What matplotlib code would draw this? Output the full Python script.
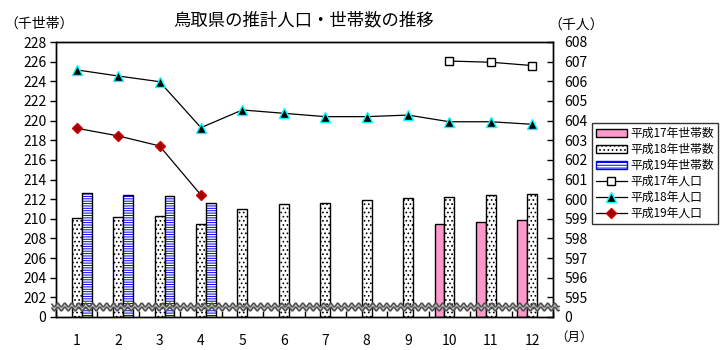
import numpy as np
import matplotlib
matplotlib.use("Agg")
import matplotlib.pyplot as plt
from matplotlib.patches import Patch
from matplotlib.lines import Line2D

plt.rcParams['font.family'] = ['Noto Sans CJK JP', 'DejaVu Sans']
plt.rcParams['hatch.linewidth'] = 0.7

months = [1, 2, 3, 4, 5, 6, 7, 8, 9, 10, 11, 12]
month_labels = [str(m) for m in months]

# 世帯数 (千世帯)
hh_h17 = [None, None, None, None, None, None, None, None, None, 209.5, 209.7, 209.9]
hh_h18 = [210.1, 210.2, 210.3, 209.5, 211.0, 211.5, 211.6, 211.9, 212.1, 212.2, 212.4, 212.5]
hh_h19 = [212.6, 212.4, 212.3, 211.6, None, None, None, None, None, None, None, None]

# 人口 (千人)
pop_h17 = [None, None, None, None, None, None, None, None, None, 607.03, 606.97, 606.8]
pop_h18 = [606.58, 606.27, 605.98, 603.64, 604.54, 604.37, 604.2, 604.2, 604.28, 603.94, 603.94, 603.81]
pop_h19 = [603.61, 603.22, 602.71, 600.21, None, None, None, None, None, None, None, None]

left_ticks = list(range(200, 229, 2))
left_tick_labels = ['0'] + [str(v) for v in left_ticks[1:]]
right_ticks = list(range(594, 609))
right_tick_labels = ['0'] + [str(v) for v in right_ticks[1:]]

legend_labels = ['平成17年世帯数', '平成18年世帯数', '平成19年世帯数',
                 '平成17年人口', '平成18年人口', '平成19年人口']

pink = '#FF99CC'
blue = '#0000FF'
darkred = '#A00000'
cyan = '#00FFFF'


def to_arr(vals):
    return np.array([np.nan if v is None else v for v in vals], dtype=float)


fig = plt.figure(figsize=(7.2, 3.5), dpi=100)
ax = fig.add_axes([56 / 720, 33 / 350, 497 / 720, 275 / 350])
ax2 = ax.twinx()

x = np.arange(len(months))
bw = 0.24
base = 200

# bars: 平成18年 centred, 平成17年 to the left, 平成19年 to the right
h17 = to_arr(hh_h17)
h18 = to_arr(hh_h18)
h19 = to_arr(hh_h19)

m = ~np.isnan(h17)
ax.bar(x[m] - bw, h17[m] - base, bw, bottom=base, color=pink,
       edgecolor='black', linewidth=1.0, zorder=2)

m = ~np.isnan(h18)
ax.bar(x[m], h18[m] - base, bw, bottom=base, color='white',
       edgecolor='black', linewidth=0, hatch='....', zorder=2)
ax.bar(x[m], h18[m] - base, bw, bottom=base, fill=False,
       edgecolor='black', linewidth=1.0, zorder=2)

m = ~np.isnan(h19)
ax.bar(x[m] + bw, h19[m] - base, bw, bottom=base, color='white',
       edgecolor=blue, linewidth=0, hatch='-------', zorder=2)
ax.bar(x[m] + bw, h19[m] - base, bw, bottom=base, fill=False,
       edgecolor='black', linewidth=1.0, zorder=2)

ax.set_xlim(-0.5, len(months) - 0.5)
ax.set_ylim(200, 228)
ax.set_yticks(left_ticks)
ax.set_yticklabels(left_tick_labels)
ax.set_xticks(x)
ax.set_xticklabels(month_labels)
ax.set_xticks(np.arange(len(months) + 1) - 0.5, minor=True)
ax.tick_params(axis='x', which='major', length=0, pad=12, labelsize=10)
ax.tick_params(axis='x', which='minor', direction='in', length=4, width=1)
ax.tick_params(axis='y', direction='out', length=4, width=1, labelsize=10, pad=3)

# population lines
ms_sq, ms_tri, ms_dia = 5.8, 6.5, 5.5
ax2.plot(x, to_arr(pop_h17), color='black', lw=0.9, marker='s', ms=ms_sq,
         mfc='white', mec='black', mew=1.0, zorder=4)
ax2.plot(x, to_arr(pop_h18), color='black', lw=0.9, marker='^', ms=ms_tri,
         mfc='black', mec=cyan, mew=1.0, zorder=4)
ax2.plot(x, to_arr(pop_h19), color='black', lw=0.9, marker='D', ms=ms_dia,
         mfc=darkred, mec='#D00000', mew=1.0, zorder=4)
ax2.set_ylim(594, 608)
ax2.set_yticks(right_ticks)
ax2.set_yticklabels(right_tick_labels)
ax2.tick_params(axis='y', direction='in', length=4, width=1, labelsize=10, pad=8)

for a in (ax, ax2):
    for s in a.spines.values():
        s.set_linewidth(1.0)

# axis break mark
xs = np.linspace(-0.008, 1.012, 1000)
period = 7.0 / 497
yc = 10.0 / 275
amp = 1.8 / 275
half = 2.0 / 275
wave = yc + amp * np.sin(2 * np.pi * xs / period)
ax2.fill_between(xs, wave - half, wave + half, color='#C8C8C8',
                 transform=ax2.transAxes, clip_on=False, zorder=5, lw=0)
ax2.plot(xs, wave + half, color='#505050', lw=1.2, transform=ax2.transAxes,
         clip_on=False, zorder=6)
ax2.plot(xs, wave - half, color='#505050', lw=1.2, transform=ax2.transAxes,
         clip_on=False, zorder=6)

# titles and unit labels
fig.text(304 / 720, 1 - 20 / 350, '鳥取県の推計人口・世帯数の推移',
         ha='center', va='center', fontsize=12.5)
fig.text(4 / 720, 1 - 24 / 350, '（千世帯）', ha='left', va='center', fontsize=10)
fig.text(548 / 720, 1 - 26 / 350, '（千人）', ha='left', va='center', fontsize=10)
fig.text(555 / 720, 1 - 337 / 350, '（月）', ha='left', va='center', fontsize=9)

handles = [
    Patch(facecolor=pink, edgecolor='black', linewidth=1.0),
    Patch(facecolor='white', edgecolor='black', linewidth=1.0, hatch='....'),
    Patch(facecolor='white', edgecolor=blue, linewidth=1.0, hatch='------'),
    Line2D([], [], color='black', lw=0.9, marker='s', ms=ms_sq, mfc='white', mec='black'),
    Line2D([], [], color='black', lw=0.9, marker='^', ms=ms_tri, mfc='black', mec=cyan),
    Line2D([], [], color='black', lw=0.9, marker='D', ms=ms_dia, mfc=darkred, mec='#D00000'),
]
leg = fig.legend(handles, legend_labels, loc='upper left',
                 bbox_to_anchor=(592 / 720, 1 - 123 / 350),
                 fontsize=8.5, frameon=True, fancybox=False, edgecolor='black',
                 borderpad=0.35, labelspacing=0.25, handlelength=2.6,
                 handletextpad=0.3, borderaxespad=0)
leg.get_frame().set_linewidth(1.0)

fig.savefig('out.png', dpi=100)
